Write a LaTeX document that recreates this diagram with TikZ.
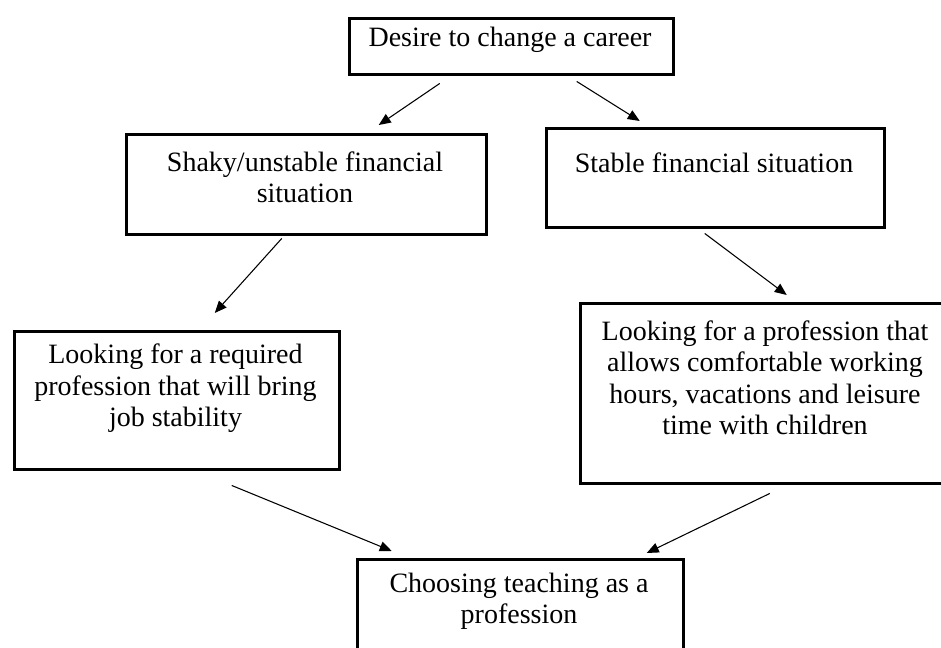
\documentclass[tikz,border=0pt]{standalone}
\usepackage{fontspec}
\setmainfont{Liberation Serif}
\usetikzlibrary{arrows.meta,calc}

\tikzset{
  frame/.style={draw, line width=2.6pt, anchor=north west, inner sep=0pt},
  txt/.style={align=center, inner sep=0pt, font=\fontsize{21}{23.6}\selectfont},
  arr/.style={-{Triangle[length=9pt,width=7.5pt]}, line width=0.8pt},
}

\begin{document}
\begin{tikzpicture}[x=0.75pt,y=-0.75pt]
\clip (0,0) rectangle (941,648);
% boxes
\node[frame, minimum width=243pt, minimum height=42pt] (desire) at (348,17) {};
\node[frame, minimum width=270pt, minimum height=75pt] (shaky) at (125,133) {};
\node[frame, minimum width=253.5pt, minimum height=74.25pt] (stable) at (545,127) {};
\node[frame, minimum width=243.75pt, minimum height=103.5pt] (required) at (13,330) {};
\node[frame, minimum width=279pt, minimum height=135pt] (leisure) at (579,302) {};
\node[frame, minimum width=244.5pt, minimum height=82.5pt] (teaching) at (356,558) {};
% texts
\node[txt] (desiretxt) at (510,40) {Desire to change a career};
\node[txt] (shakytxt) at (305,177.5) {Shaky/unstable financial\\situation};
\node[txt] (stabletxt) at (714,163) {Stable financial situation};
\node[txt] (requiredtxt) at (175.5,388.5) {Looking for a required\\profession that will bring\\job stability};
\node[txt] (leisuretxt) at (765,378) {Looking for a profession that\\allows comfortable working\\hours, vacations and leisure\\time with children};
\node[txt] (teachingtxt) at (519,601) {Choosing teaching as a\\profession};
% arrows
\draw[arr] ($(desire.south)+(-72,7)$) -- ($(shaky.north)+(72,-8)$);
\draw[arr] ($(desire.south)+(65,5)$) -- ($(stable.north)+(-76,-6)$);
\draw[arr] ($(shaky.south)+(-25,2)$) -- ($(required.north)+(37.5,-17)$);
\draw[arr] ($(stable.south)+(-11,4)$) -- ($(leisure.north)+(20,-7)$);
\draw[arr] ($(required.south)+(54.5,14)$) -- ($(teaching.north)+(-129,-7)$);
\draw[arr] ($(leisure.south)+(3,8)$) -- ($(teaching.north)+(126,-5)$);
\end{tikzpicture}
\end{document}
